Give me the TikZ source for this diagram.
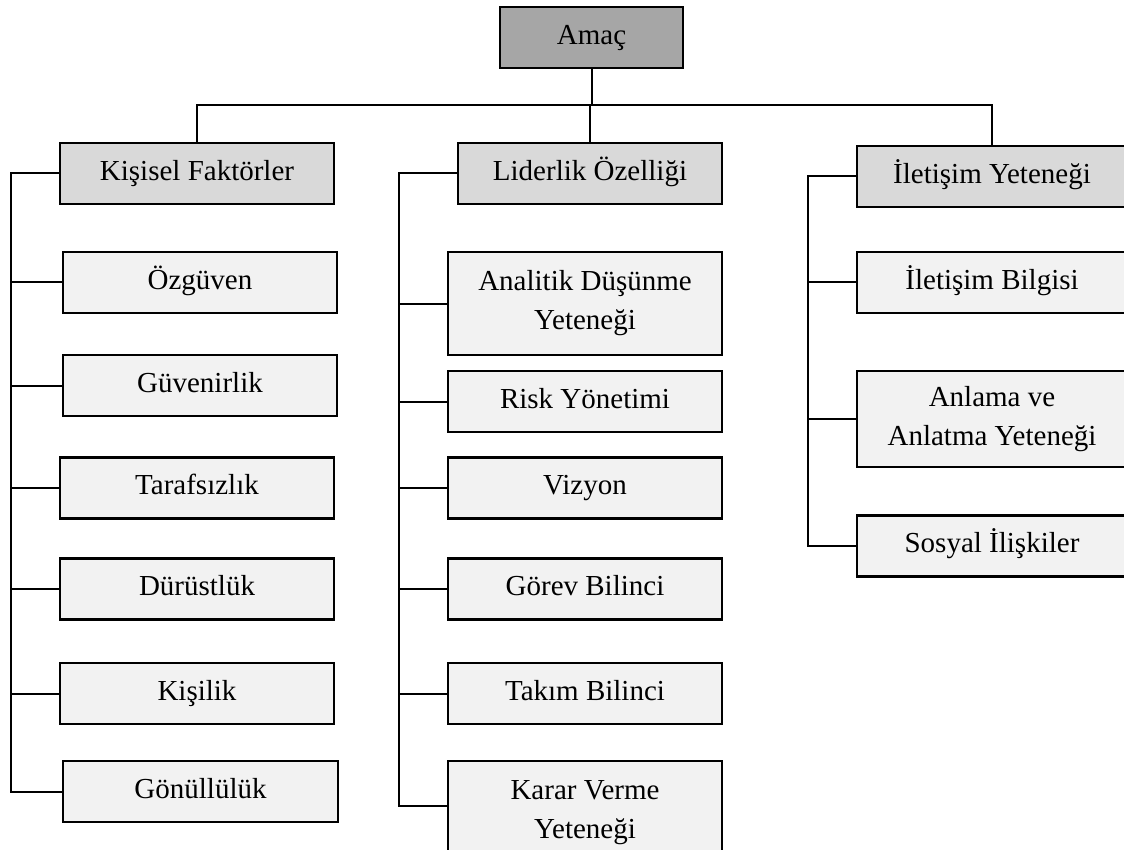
\documentclass[tikz,border=0pt]{standalone}
\usepackage{fontspec}
\setmainfont{Liberation Serif}
\definecolor{topfill}{HTML}{A6A6A6}
\definecolor{midfill}{HTML}{D9D9D9}
\definecolor{leaffill}{HTML}{F2F2F2}
\begin{document}
\begin{tikzpicture}[x=1pt,y=-1pt,
  box/.style={draw=black,line width=2.2pt,rectangle,inner sep=0pt,align=center,
    font=\fontsize{29}{39}\selectfont,minimum height=61pt},
  one/.style={text height=21pt,text depth=7.5pt},
  topbox/.style={box,one,fill=topfill,minimum width=183pt},
  midbox/.style={box,one,fill=midfill},
  leafbox/.style={box,one,fill=leaffill},
  twobox/.style={box,fill=leaffill},
  conn/.style={line width=2pt,black}]
\useasboundingbox (0,0) rectangle (1124,850);
% top
\node[topbox] (amac) at (591.5,37.5) {Amaç};
% level 2
\node[midbox,minimum width=274pt] (kf) at (197,173.5) {Kişisel Faktörler};
\node[midbox,minimum width=264pt] (lo) at (590,173.5) {Liderlik Özelliği};
\node[midbox,minimum width=270pt] (iy) at (992,176.5) {İletişim Yeteneği};
% left column
\node[leafbox,minimum width=274pt] (ozg) at (200,282.5) {Özgüven};
\node[leafbox,minimum width=274pt] (guv) at (200,385.5) {Güvenirlik};
\node[leafbox,minimum width=274pt] (tar) at (197,488) {Tarafsızlık};
\node[leafbox,minimum width=274pt] (dur) at (197,589) {Dürüstlük};
\node[leafbox,minimum width=274pt] (kis) at (197,693.5) {Kişilik};
\node[leafbox,minimum width=275pt] (gon) at (200.5,791.5) {Gönüllülük};
% middle column
\node[twobox,minimum width=274pt,minimum height=103pt] (ana) at (585,303.5) {Analitik Düşünme\\Yeteneği};
\node[leafbox,minimum width=274pt] (ris) at (585,401.5) {Risk Yönetimi};
\node[leafbox,minimum width=274pt] (viz) at (585,488) {Vizyon};
\node[leafbox,minimum width=274pt] (gor) at (585,589) {Görev Bilinci};
\node[leafbox,minimum width=274pt] (tak) at (585,693.5) {Takım Bilinci};
\node[twobox,minimum width=274pt,minimum height=103pt] (kar) at (585,812.5) {Karar Verme\\Yeteneği};
% right column
\node[leafbox,minimum width=270pt] (ilb) at (992,282.5) {İletişim Bilgisi};
\node[twobox,minimum width=270pt,minimum height=96pt] (anl) at (992,419) {Anlama ve\\Anlatma Yeteneği};
\node[leafbox,minimum width=270pt] (sos) at (992,546) {Sosyal İlişkiler};
% top connectors
\coordinate (bus) at (0,105);
\draw[conn] (amac.south) -- (amac.south |- bus);
\draw[conn] (kf.north) |- (bus -| iy.north) -- (iy.north);
\draw[conn] (lo.north) -- (lo.north |- bus);
% left trunk
\draw[conn] (kf.west) -- ++(-48,0) coordinate (kt) -- (kt |- gon.west) -- (gon.west);
\foreach \n in {ozg,guv,tar,dur,kis}{\draw[conn] (kt |- \n.west) -- (\n.west);}
% middle trunk
\coordinate (karin) at ([yshift=6.5pt]kar.west);
\draw[conn] (lo.west) -- ++(-58,0) coordinate (mt) -- (mt |- karin) -- (karin);
\foreach \n in {ana,ris,viz,gor,tak}{\draw[conn] (mt |- \n.west) -- (\n.west);}
% right trunk
\draw[conn] (iy.west) -- ++(-48,0) coordinate (rt) -- (rt |- sos.west) -- (sos.west);
\foreach \n in {ilb,anl}{\draw[conn] (rt |- \n.west) -- (\n.west);}
\end{tikzpicture}
\end{document}
